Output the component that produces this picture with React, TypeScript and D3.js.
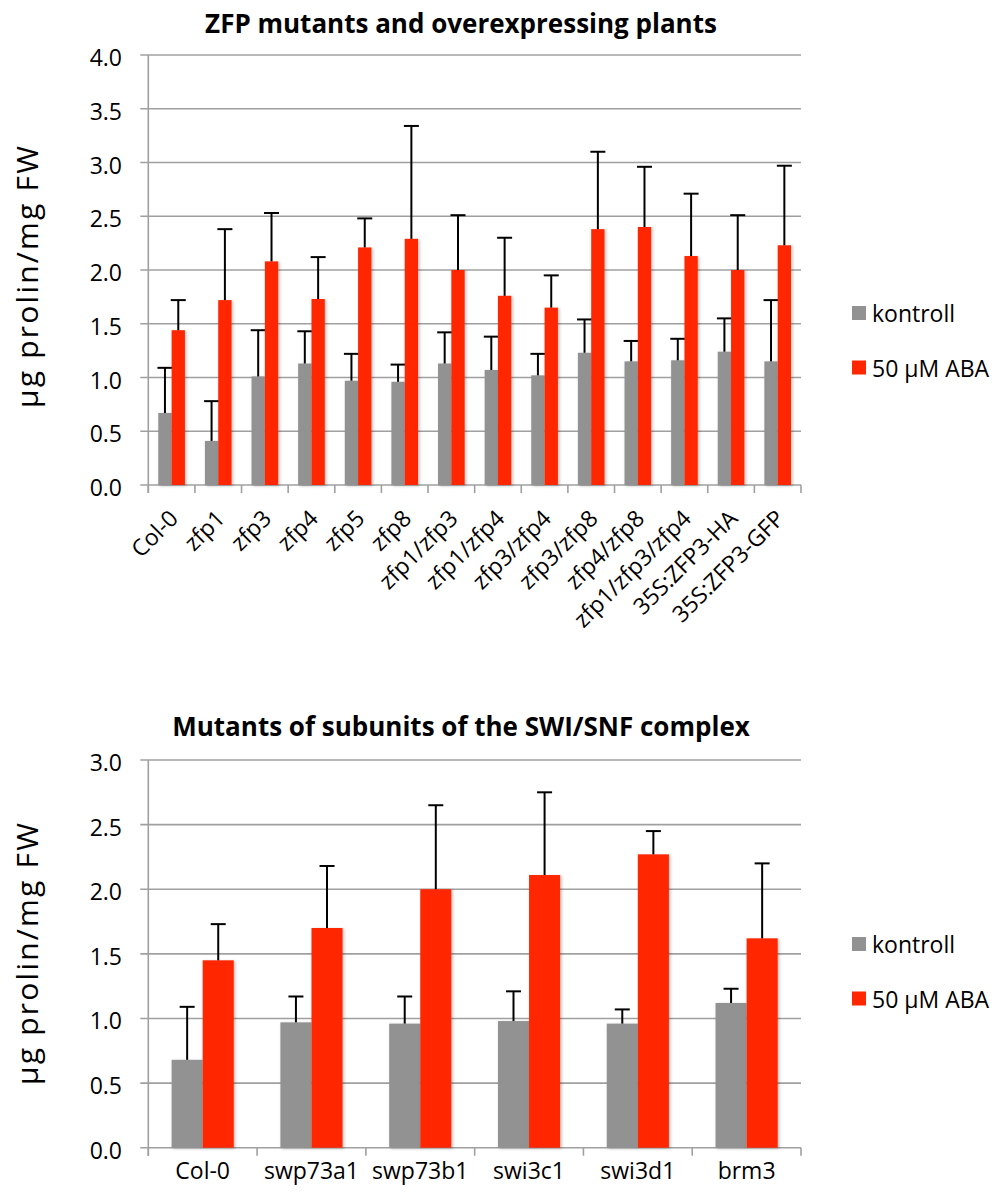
import React from 'react';
import * as d3 from 'd3';

// series names
const seriesNames = ['kontroll', '50 µM ABA'];
const seriesColors = ['#929292', '#ff2600'];

// top chart: ZFP mutants
const zfpCategories = [
  'Col-0', 'zfp1', 'zfp3', 'zfp4', 'zfp5', 'zfp8', 'zfp1/zfp3', 'zfp1/zfp4',
  'zfp3/zfp4', 'zfp3/zfp8', 'zfp4/zfp8', 'zfp1/zfp3/zfp4', '35S:ZFP3-HA', '35S:ZFP3-GFP',
];
const zfpControl = [0.67, 0.41, 1.01, 1.13, 0.97, 0.96, 1.13, 1.07, 1.02, 1.23, 1.15, 1.16, 1.24, 1.15];
const zfpControlSd = [0.42, 0.37, 0.43, 0.30, 0.25, 0.16, 0.29, 0.31, 0.20, 0.31, 0.19, 0.20, 0.31, 0.57];
const zfpAba = [1.44, 1.72, 2.08, 1.73, 2.21, 2.29, 2.0, 1.76, 1.65, 2.38, 2.40, 2.13, 2.0, 2.23];
const zfpAbaSd = [0.28, 0.66, 0.45, 0.39, 0.27, 1.05, 0.51, 0.54, 0.30, 0.72, 0.56, 0.58, 0.51, 0.74];
const zfpTicks = [0, 0.5, 1, 1.5, 2, 2.5, 3, 3.5, 4];

// bottom chart: SWI/SNF mutants
const swiCategories = ['Col-0', 'swp73a1', 'swp73b1', 'swi3c1', 'swi3d1', 'brm3'];
const swiControl = [0.68, 0.97, 0.96, 0.98, 0.96, 1.12];
const swiControlSd = [0.41, 0.20, 0.21, 0.23, 0.11, 0.11];
const swiAba = [1.45, 1.70, 2.0, 2.11, 2.27, 1.62];
const swiAbaSd = [0.28, 0.48, 0.65, 0.64, 0.18, 0.58];
const swiTicks = [0, 0.5, 1, 1.5, 2, 2.5, 3];

const FONT = '"Open Sans", sans-serif';

type ChartProps = {
  title: string;
  titleY: number;
  categories: string[];
  values: number[][];
  errors: number[][];
  ticks: number[];
  top: number;
  bottom: number;
  rotated: boolean;
  labelCenter: number;
  legendY: number;
};

const left = 148.3;
const right = 801;

function BarChart(p: ChartProps) {
  const x = d3.scaleBand().domain(p.categories).range([left, right]);
  const y = d3.scaleLinear().domain([0, d3.max(p.ticks)!]).range([p.bottom, p.top]);
  const bw = x.bandwidth() / 3.5;

  return (
    <g>
      <text x={461} y={p.titleY} textAnchor="middle" fontFamily={FONT} fontWeight="bold" fontSize={26}>
        {p.title}
      </text>

      {/* gridlines + y ticks */}
      {p.ticks.map((t) => (
        <g key={t}>
          <line x1={left - 8} x2={right} y1={y(t)} y2={y(t)} stroke="#a0a0a0" strokeWidth={1.6} />
          <text x={122} y={y(t) + 11} textAnchor="end" fontFamily={FONT} fontSize={23}>
            {t.toFixed(1)}
          </text>
        </g>
      ))}
      <line x1={left} x2={left} y1={p.top} y2={p.bottom + 8} stroke="#a0a0a0" strokeWidth={1.6} />
      {d3.range(p.categories.length + 1).map((i) => {
        const xx = left + i * x.step();
        return <line key={i} x1={xx} x2={xx} y1={p.bottom} y2={p.bottom + 8} stroke="#a0a0a0" strokeWidth={1.6} />;
      })}

      {/* bars */}
      {p.categories.map((c, ci) => {
        const cx = x(c)! + x.bandwidth() / 2;
        return (
          <g key={c}>
            {p.values.map((vals, si) => {
              const bx = cx - bw + si * bw;
              const v = vals[ci];
              const top = y(v + p.errors[si][ci]);
              const mid = bx + bw / 2;
              return (
                <g key={si}>
                  <rect x={bx} y={y(v)} width={bw} height={p.bottom - y(v)} fill={seriesColors[si]} filter="url(#shadow)" />
                  <line x1={mid} x2={mid} y1={y(v)} y2={top} stroke="#000" strokeWidth={2} />
                  <line x1={mid - 7.5} x2={mid + 7.5} y1={top} y2={top} stroke="#000" strokeWidth={2} />
                </g>
              );
            })}
          </g>
        );
      })}

      {/* category labels */}
      {p.categories.map((c) => {
        const cx = x(c)! + x.bandwidth() / 2;
        return p.rotated ? (
          <text key={c} transform={`translate(${cx + 8},${p.bottom + 35}) rotate(-45)`} textAnchor="end" fontFamily={FONT} fontSize={23}>
            {c}
          </text>
        ) : (
          <text key={c} x={cx} y={p.bottom + 31} textAnchor="middle" fontFamily={FONT} fontSize={23}>
            {c}
          </text>
        );
      })}

      {/* y axis title */}
      <text
        transform={`translate(38,${p.labelCenter}) rotate(-90)`}
        textAnchor="middle"
        fontFamily={FONT}
        fontSize={30}
        textLength={262}
        lengthAdjust="spacing"
      >
        µg prolin/mg FW
      </text>

      {/* legend */}
      {seriesNames.map((s, i) => (
        <g key={s} transform={`translate(852,${p.legendY + i * 54.5})`}>
          <rect x={0} y={-14} width={14} height={14} fill={seriesColors[i]} />
          <text x={20} y={2} fontFamily={FONT} fontSize={23}>{s}</text>
        </g>
      ))}
    </g>
  );
}

export default function App() {
  return (
    <svg width={999} height={1197} style={{ position: 'absolute', left: 0, top: 0, background: '#fff' }}>
      <defs>
        <filter id="shadow" x="-20%" y="-5%" width="150%" height="115%">
          <feDropShadow dx={1.5} dy={1} stdDeviation={1.5} floodColor="#000" floodOpacity={0.25} />
        </filter>
      </defs>
      <BarChart
        title="ZFP mutants and overexpressing plants"
        titleY={33}
        categories={zfpCategories}
        values={[zfpControl, zfpAba]}
        errors={[zfpControlSd, zfpAbaSd]}
        ticks={zfpTicks}
        top={55}
        bottom={485}
        rotated={true}
        labelCenter={277}
        legendY={320}
      />
      <BarChart
        title="Mutants of subunits of the SWI/SNF complex"
        titleY={736}
        categories={swiCategories}
        values={[swiControl, swiAba]}
        errors={[swiControlSd, swiAbaSd]}
        ticks={swiTicks}
        top={760}
        bottom={1147.7}
        rotated={false}
        labelCenter={954}
        legendY={951}
      />
    </svg>
  );
}
